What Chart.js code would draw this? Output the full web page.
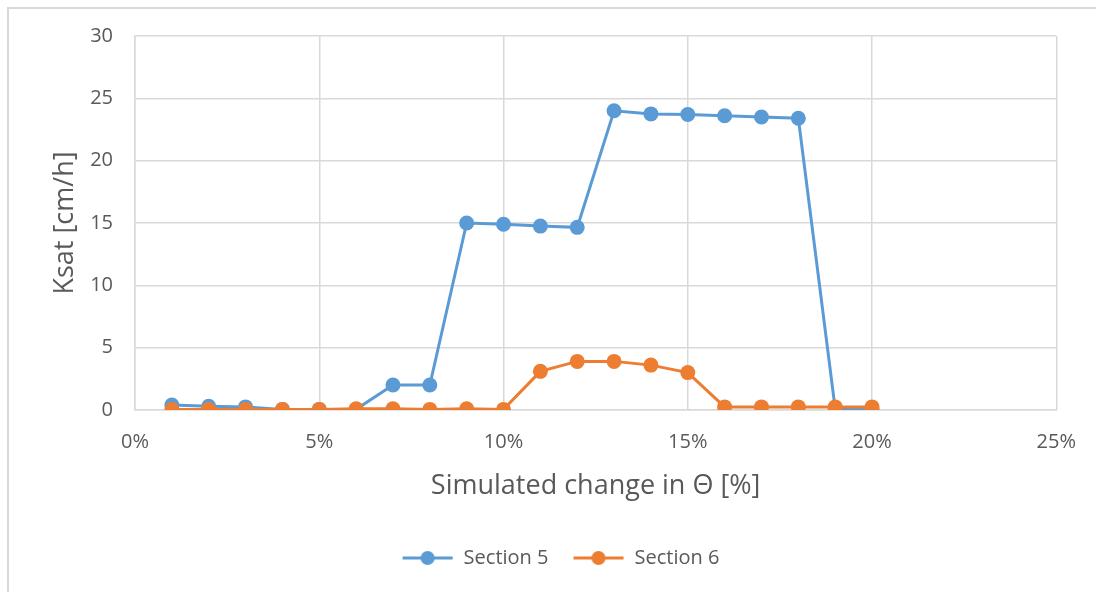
<!DOCTYPE html>
<html>
<head>
<meta charset="utf-8">
<script src="https://cdn.jsdelivr.net/npm/chart.js@4/dist/chart.umd.min.js"></script>
<style>
  html, body { margin: 0; padding: 0; background: #fff; overflow: hidden; }
  #frame {
    position: absolute; left: 7px; top: 7px; width: 1200px; height: 700px;
    border: 2px solid #d9d9d9; box-sizing: border-box;
  }
  #wrap { position: absolute; left: 0; top: 0; width: 1096px; height: 592px; }
</style>
</head>
<body>
<div id="frame"></div>
<div id="wrap"><canvas id="myChart" width="1096" height="592"></canvas></div>
<script>
const changePct = [1, 2, 3, 4, 5, 6, 7, 8, 9, 10, 11, 12, 13, 14, 15, 16, 17, 18, 19, 20];
const section5 = [0.4, 0.3, 0.25, 0.05, 0.05, 0.05, 2.0, 2.0, 15.0, 14.9, 14.75, 14.65, 24.0, 23.75, 23.7, 23.6, 23.5, 23.4, 0.1, 0.05];
const section6 = [0.05, 0.05, 0.05, 0.05, 0.05, 0.1, 0.1, 0.05, 0.1, 0.05, 3.1, 3.9, 3.9, 3.6, 3.0, 0.25, 0.25, 0.25, 0.25, 0.25];
const seriesNames = ["Section 5", "Section 6"];
const colors = ["#5b9bd5", "#ed7d31"];

const font = "'Open Sans', 'Liberation Sans', sans-serif";
const textColor = "#595959";
const gridColor = "#d9d9d9";

// legend marker: short line with a dot in the middle
const legendIcon = (color) => {
  const c = document.createElement("canvas");
  c.width = 52; c.height = 16;
  const ctx = c.getContext("2d");
  ctx.strokeStyle = color;
  ctx.lineWidth = 3;
  ctx.beginPath();
  ctx.moveTo(1, 8);
  ctx.lineTo(51, 8);
  ctx.stroke();
  ctx.fillStyle = color;
  ctx.beginPath();
  ctx.arc(26, 8, 7, 0, Math.PI * 2);
  ctx.fill();
  return c;
};

// the legend sits a bit right of the canvas centre in the original
const shiftLegend = {
  id: "shiftLegend",
  afterLayout: (chart) => {
    chart.legend.left += 32;
    chart.legend.right += 32;
  },
};

const toPoints = (vals) => changePct.map((x, i) => ({ x: x, y: vals[i] }));

const data = {
  datasets: [section5, section6].map((vals, i) => {
    return {
      label: seriesNames[i],
      data: toPoints(vals),
      borderColor: colors[i],
      backgroundColor: colors[i],
      borderWidth: 3,
      pointRadius: 7.5,
      pointHoverRadius: 7.5,
      pointBorderWidth: 0,
      tension: 0,
      order: seriesNames.length - i, // later series painted on top, like Excel
    };
  }),
};

new Chart(document.getElementById("myChart"), {
  type: "line",
  data: data,
  plugins: [shiftLegend],
  options: {
    responsive: false,
    animation: false,
    layout: { padding: { top: 36, right: 39, bottom: 14, left: 0 } },
    plugins: {
      tooltip: { enabled: false },
      legend: {
        position: "bottom",
        labels: {
          color: textColor,
          font: { family: font, size: 20 },
          padding: 24,
          boxWidth: 52,
          boxHeight: 16,
          pointStyleWidth: 52,
          usePointStyle: true,
          generateLabels: (chart) =>
            chart.data.datasets.map((ds, i) => ({
              text: ds.label,
              pointStyle: legendIcon(ds.borderColor),
              fillStyle: ds.borderColor,
              strokeStyle: ds.borderColor,
              fontColor: textColor,
              lineWidth: 0,
              hidden: false,
              datasetIndex: i,
            })),
        },
      },
    },
    scales: {
      x: {
        type: "linear",
        min: 0,
        max: 25,
        ticks: {
          stepSize: 5,
          color: textColor,
          font: { family: font, size: 20 },
          padding: 20,
          callback: (v) => v + "%",
        },
        grid: { color: gridColor, lineWidth: 1.5, drawTicks: false },
        border: { color: gridColor, width: 1.5 },
        title: {
          display: true,
          text: "Simulated change in Θ [%]",
          color: textColor,
          font: { family: font, size: 27 },
          padding: { top: 4, bottom: 21 },
        },
        afterFit: (scale) => { scale.height = 114; },
      },
      y: {
        min: 0,
        max: 30,
        ticks: {
          stepSize: 5,
          color: textColor,
          font: { family: font, size: 20 },
          padding: 22,
        },
        grid: { color: gridColor, lineWidth: 1.5, drawTicks: false },
        border: { color: gridColor, width: 1.5 },
        title: {
          display: true,
          text: "Ksat [cm/h]",
          color: textColor,
          font: { family: font, size: 27 },
          padding: { top: 49, bottom: 4 },
        },
        afterFit: (scale) => { scale.width = 135; },
      },
    },
  },
});
</script>
</body>
</html>
